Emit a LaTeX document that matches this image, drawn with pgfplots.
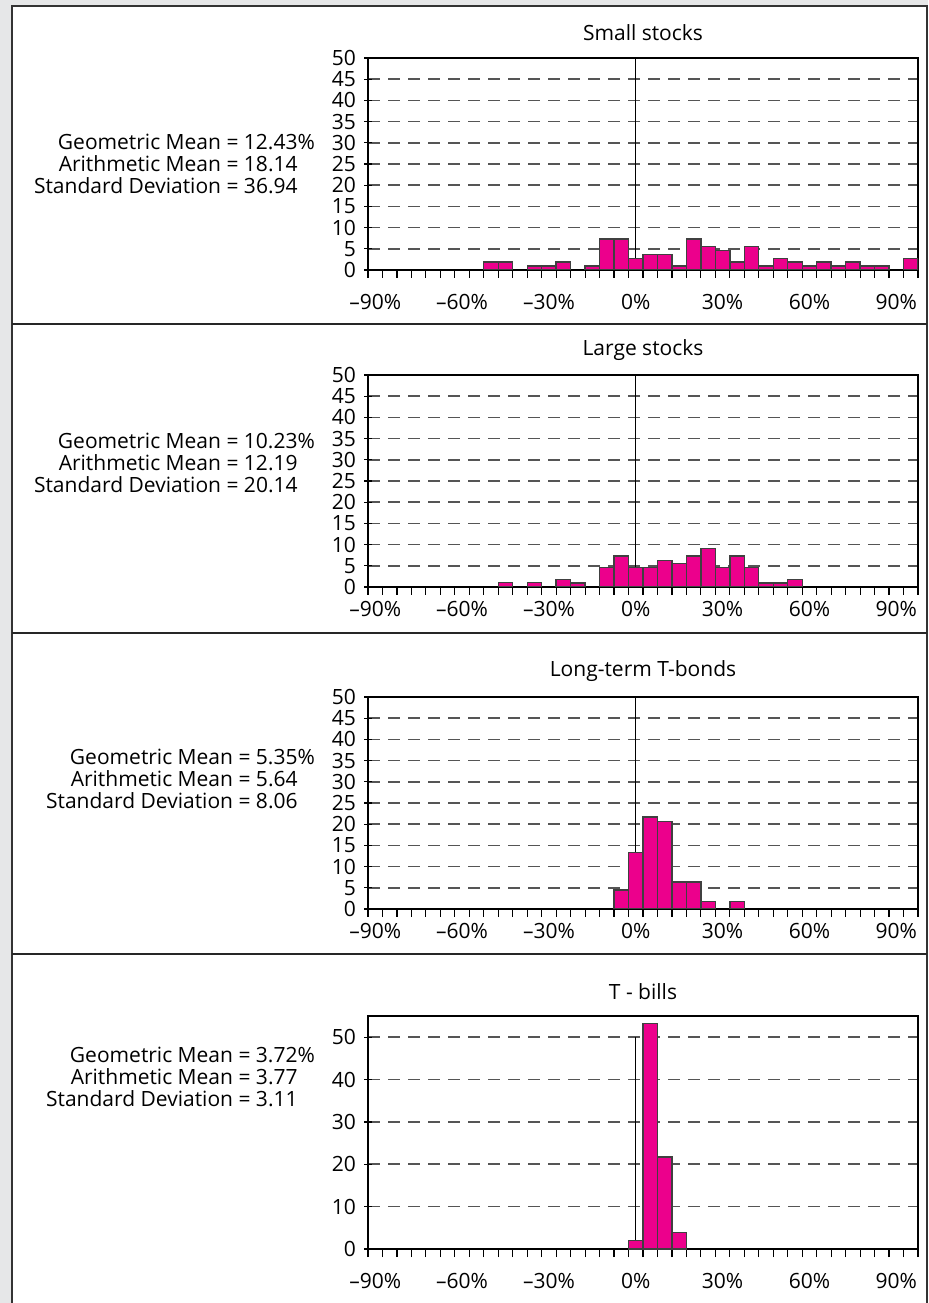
\documentclass[border=0pt]{standalone}
\usepackage{fontspec}
\setmainfont{Open Sans}
\usepackage{pgfplots}
\pgfplotsset{compat=1.18}
\usepackage{pgfplotstable}

\definecolor{barpink}{RGB}{236,0,140}
\definecolor{bggray}{RGB}{230,231,232}
\definecolor{gridgray}{RGB}{85,85,85}

% bin index: 0 = -90%, 18 = 0%, 37 = 95% (5% bins)
\pgfplotstableread{
bin n
8 1.9
9 1.9
11 0.9
12 0.9
13 1.9
15 0.9
16 7.3
17 7.3
18 2.7
19 3.7
20 3.7
21 0.9
22 7.3
23 5.5
24 4.6
25 1.9
26 5.5
27 0.9
28 2.7
29 1.9
30 0.9
31 1.9
32 0.9
33 1.9
34 0.9
35 0.9
37 2.7
}\smallstocks

\pgfplotstableread{
bin n
9 1.1
11 1.1
13 1.8
14 0.95
16 4.6
17 7.3
18 4.6
19 4.6
20 6.3
21 5.5
22 7.3
23 9.1
24 4.6
25 7.3
26 4.6
27 0.9
28 0.9
29 1.7
}\largestocks

\pgfplotstableread{
bin n
17 4.5
18 13.3
19 21.7
20 20.7
21 6.4
22 6.4
23 1.7
25 1.7
}\tbonds

\pgfplotstableread{
bin n
18 2.05
19 53.2
20 21.7
21 3.9
}\tbills

\newcommand\lblfont{\fontsize{10.5}{11}\selectfont}

\pgfplotsset{
  histo/.style={
    scale only axis, width=275pt, height=106pt,
    anchor=south west,
    xmin=-0.5, xmax=37.5, ymin=0, ymax=50,
    ytick={0,5,...,50},
    xtick={-0.5,0.5,...,37.5},
    xticklabels={},
    extra x ticks={0,6,...,36},
    extra x tick labels={–90\%,–60\%,–30\%,0\%,30\%,60\%,90\%},
    extra x tick style={major tick length=0pt},
    tick pos=left,
    tick align=center,
    major tick length=4pt,
    tick style={black, line width=0.6pt},
    ymajorgrids,
    major grid style={gridgray, line width=0.8pt, dash pattern=on 6pt off 4pt},
    axis line style={black, line width=0.6pt},
    /pgf/number format/assume math mode=true,
    tick label style={font=\lblfont},
    xticklabel style={yshift=-8.5pt},
    yticklabel style={xshift=-0.5pt},
    ybar, bar width=1,
  },
  bars/.style={fill=barpink, draw=black!75, line width=0.7pt},
}

\begin{document}
\begin{tikzpicture}
\useasboundingbox (0,0) rectangle (464pt,651.5pt);
\clip (0,0) rectangle (464pt,651.5pt);
\fill[bggray] (0,0) rectangle (464pt,651.5pt);
\filldraw[fill=white, draw=black!80, line width=0.6pt] (6pt,-5pt) rectangle (463.5pt,648.5pt);
\draw[black!85, line width=0.6pt] (6pt,489.5pt) -- (463.5pt,489.5pt);
\draw[black!85, line width=0.6pt] (6pt,335pt) -- (463.5pt,335pt);
\draw[black!85, line width=0.6pt] (6pt,174.5pt) -- (463.5pt,174.5pt);

% Small stocks
\node[font=\lblfont] at (321.5pt,635pt) {Small stocks};
\node[anchor=east, inner sep=0pt, align=right, font=\lblfont] at (149pt,569.5pt)
  {Geometric Mean = 12.43\rlap{\%}\\Arithmetic Mean = 18.14\\Standard Deviation = 36.94};
\begin{axis}[histo, at={(184pt,516.5pt)}]
\draw[black, line width=0.6pt] (axis cs:18,0) -- (axis cs:18,50);
\addplot[bars] table[x=bin, y=n] {\smallstocks};
\end{axis}

% Large stocks
\node[font=\lblfont] at (321.5pt,476.5pt) {Large stocks};
\node[anchor=east, inner sep=0pt, align=right, font=\lblfont] at (149pt,420pt)
  {Geometric Mean = 10.23\rlap{\%}\\Arithmetic Mean = 12.19\\Standard Deviation = 20.14};
\begin{axis}[histo, at={(184pt,358pt)}, xticklabel style={yshift=5pt}]
\draw[black, line width=0.6pt] (axis cs:18,0) -- (axis cs:18,50);
\addplot[bars] table[x=bin, y=n] {\largestocks};
\end{axis}

% Long-term T-bonds
\node[font=\lblfont] at (321.5pt,316pt) {Long-term T-bonds};
\node[anchor=east, inner sep=0pt, align=right, font=\lblfont] at (149pt,262pt)
  {Geometric Mean = 5.35\rlap{\%}\\Arithmetic Mean = 5.64\\Standard Deviation = 8.06};
\begin{axis}[histo, at={(184pt,197pt)}, xticklabel style={yshift=5pt}]
\draw[black, line width=0.6pt] (axis cs:18,0) -- (axis cs:18,50);
\addplot[bars] table[x=bin, y=n] {\tbonds};
\end{axis}

% T-bills
\node[font=\lblfont] at (321.5pt,155.5pt) {T - bills};
\node[anchor=east, inner sep=0pt, align=right, font=\lblfont] at (149pt,113pt)
  {Geometric Mean = 3.72\rlap{\%}\\Arithmetic Mean = 3.77\\Standard Deviation = 3.11};
\begin{axis}[histo, at={(184pt,27pt)}, height=116.5pt, ymax=55, ytick={0,10,...,50}]
\draw[black, line width=0.6pt] (axis cs:18,0) -- (axis cs:18,50);
\addplot[bars] table[x=bin, y=n] {\tbills};
\end{axis}
\end{tikzpicture}
\end{document}
